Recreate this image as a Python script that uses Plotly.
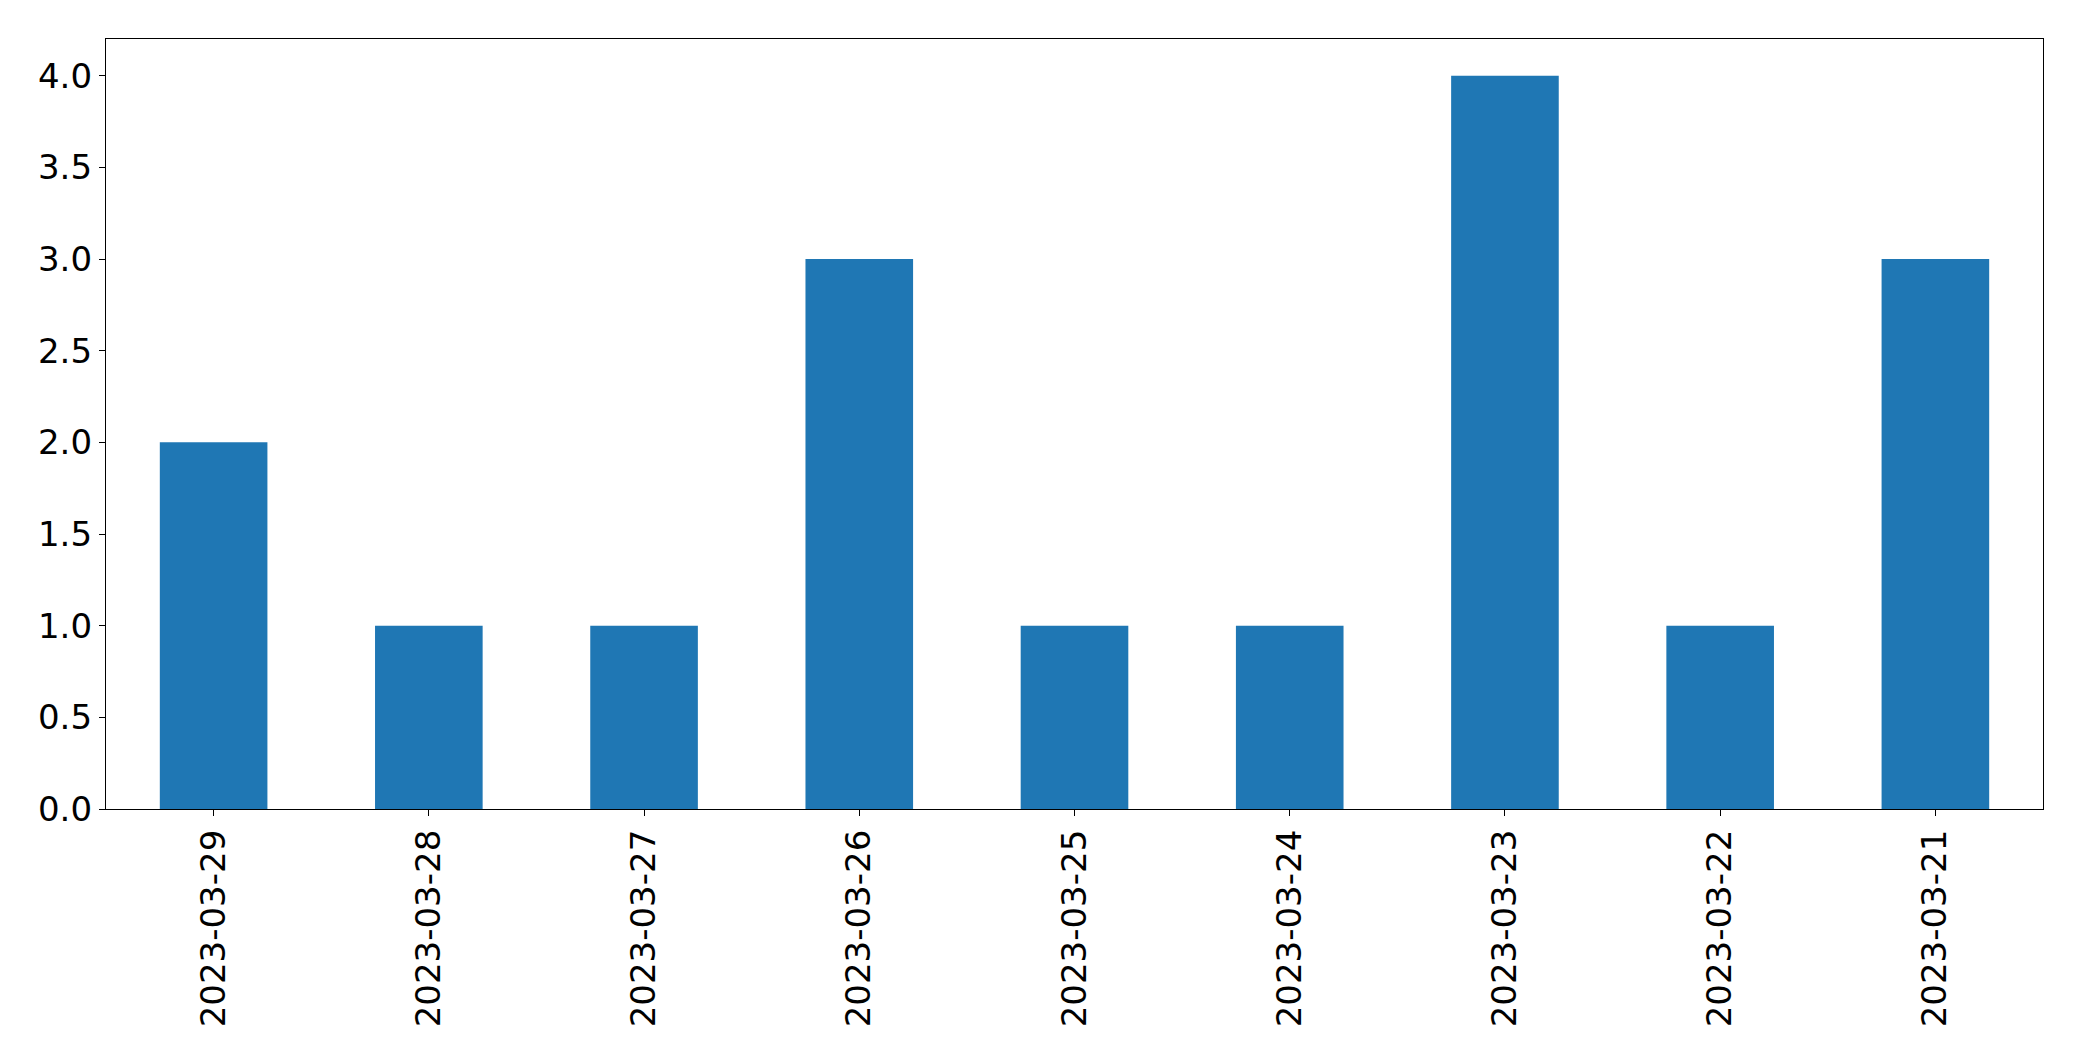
import plotly.graph_objects as go

dates = ["2023-03-29", "2023-03-28", "2023-03-27", "2023-03-26", "2023-03-25",
         "2023-03-24", "2023-03-23", "2023-03-22", "2023-03-21"]
counts = [2, 1, 1, 3, 1, 1, 4, 1, 3]
y_ticks = [0.0, 0.5, 1.0, 1.5, 2.0, 2.5, 3.0, 3.5, 4.0]

fig = go.Figure(go.Bar(x=dates, y=counts, width=0.5, marker=dict(color="#1f77b4", line=dict(width=0))))

font = dict(family="DejaVu Sans", size=34, color="black")
fig.update_layout(
    width=2066, height=1045,
    margin=dict(l=97.5, r=30.7, t=31.3, b=243.7),
    paper_bgcolor="white", plot_bgcolor="white",
    showlegend=False, font=font,
)
fig.update_xaxes(
    type="category", range=[-0.5, 8.5], tickangle=-90,
    showline=True, linecolor="black", linewidth=1.3, mirror=True,
    ticks="outside", ticklen=6, tickwidth=1.3, tickcolor="black",
    showgrid=False, zeroline=False, tickfont=font,
)
fig.update_yaxes(
    range=[0, 4.2], tickvals=y_ticks, ticktext=[f"{v:.1f}" for v in y_ticks],
    showline=True, linecolor="black", linewidth=1.3, mirror=True,
    ticks="outside", ticklen=6, tickwidth=1.3, tickcolor="black",
    showgrid=False, zeroline=False, tickfont=font,
)
fig.write_html("out.html")
